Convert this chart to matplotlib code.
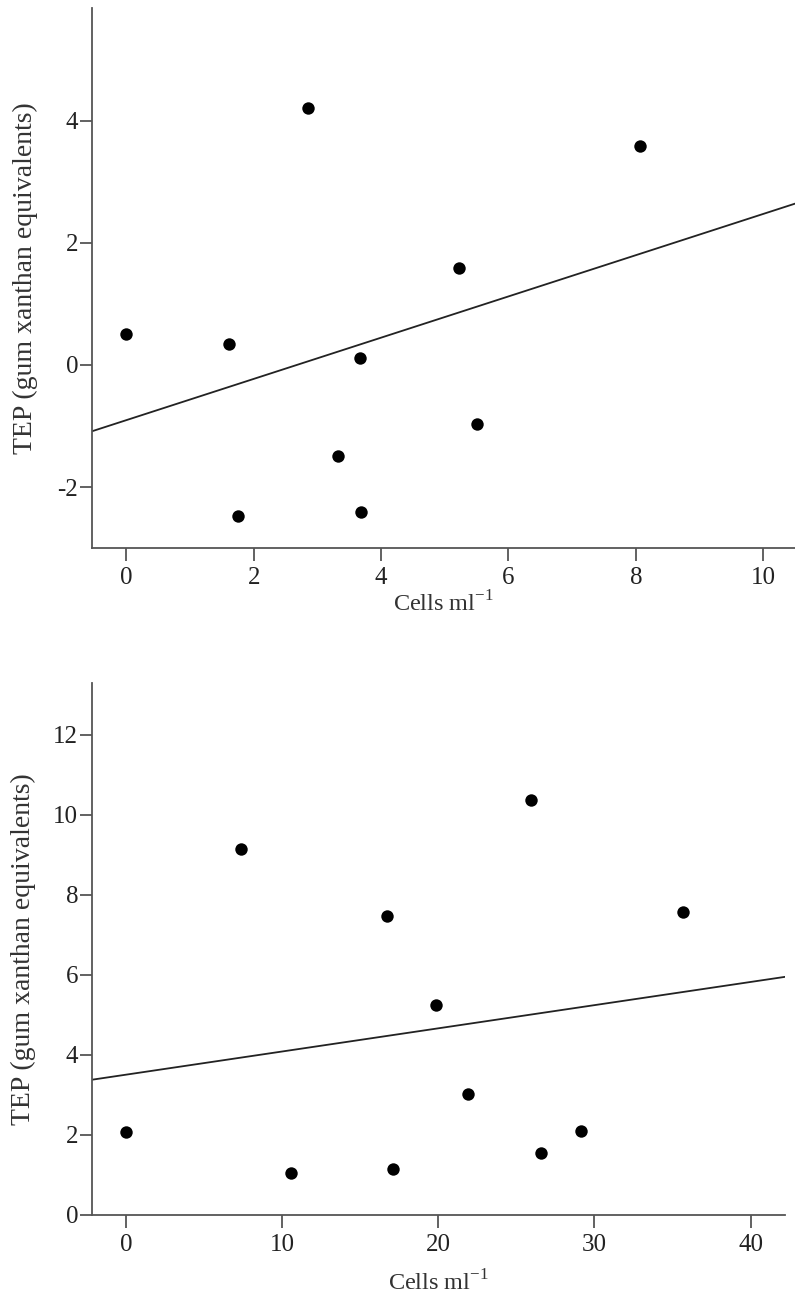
import numpy as np
from matplotlib import pyplot as plt

plt.rcParams['font.family'] = ['Liberation Serif', 'DejaVu Serif']
plt.rcParams['mathtext.fontset'] = 'custom'
plt.rcParams['mathtext.rm'] = 'Liberation Serif'
plt.rcParams['axes.unicode_minus'] = False

# top panel
cells1 = [0.0, 1.61, 2.85, 3.67, 3.33, 1.75, 3.69, 5.23, 5.50, 8.06]
tep1 = [0.51, 0.35, 4.21, 0.12, -1.50, -2.47, -2.41, 1.59, -0.97, 3.59]

# bottom panel
cells2 = [0.0, 7.36, 10.55, 16.74, 17.10, 25.91, 35.66, 19.86, 21.90, 29.15, 26.55]
tep2 = [2.07, 9.15, 1.06, 7.47, 1.15, 10.38, 7.57, 5.26, 3.03, 2.09, 1.56]


def panel(ax, x, y, xlim, ylim, xticks, yticks, xlabpad, ylabpad):
    x = np.array(x)
    y = np.array(y)
    ax.scatter(x, y, s=80, color='black', zorder=3, linewidths=0)
    slope, icpt = np.polyfit(x, y, 1)
    xx = np.array(xlim)
    ax.plot(xx, slope * xx + icpt, color='#222222', linewidth=1.3)
    ax.set_xlim(xlim)
    ax.set_ylim(ylim)
    ax.set_xticks(xticks)
    ax.set_yticks(yticks)
    ax.spines['top'].set_visible(False)
    ax.spines['right'].set_visible(False)
    for s in ['left', 'bottom']:
        ax.spines[s].set_color('#555555')
        ax.spines[s].set_linewidth(1.3)
    ax.tick_params(direction='out', length=9, width=1.3, color='#555555',
                   labelsize=18, labelcolor='#222222')
    ax.tick_params(axis='x', pad=5)
    ax.tick_params(axis='y', pad=1)
    ax.set_xlabel('Cells ml$^{-1}$', fontsize=17.5, labelpad=xlabpad, color='#333333')
    ax.set_ylabel('TEP (gum xanthan equivalents)', fontsize=20, labelpad=ylabpad,
                  color='#333333')


fig = plt.figure(figsize=(7.95, 12.98), dpi=100)
ax1 = fig.add_axes([0.1157, 0.5778, 0.8843, 0.416])
ax2 = fig.add_axes([0.1160, 0.0640, 0.8714, 0.4098])

panel(ax1, cells1, tep1, (-0.54, 10.5), (-3.0, 5.85), [0, 2, 4, 6, 8, 10], [-2, 0, 2, 4], 1, 14)
panel(ax2, cells2, tep2, (-2.16, 42.2), (0, 13.3), [0, 10, 20, 30, 40], [0, 2, 4, 6, 8, 10, 12], 10, 12.5)

fig.savefig('out.png', dpi=100)
